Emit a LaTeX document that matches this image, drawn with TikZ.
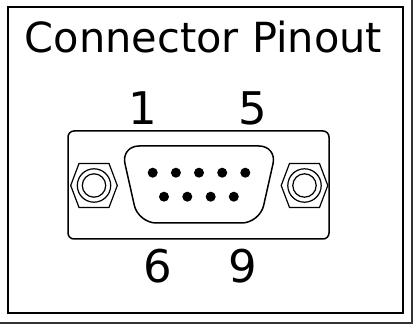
\documentclass[tikz,border=0pt]{standalone}
\usepackage{fontspec}
\setmainfont{DejaVu Sans}
\begin{document}
\begin{tikzpicture}[x=1pt,y=-1pt,
  lbl/.style={inner sep=0pt,anchor=base,font=\fontsize{45}{45}\selectfont},
  ttl/.style={inner sep=0pt,anchor=base,font=\fontsize{41.5}{41.5}\selectfont},
  part/.style={line width=1.5pt,draw=black},
  pin/.style={fill=black}]
\useasboundingbox (0,0) rectangle (413,326);
\fill[white] (0,0) rectangle (413,326);
% frames
\draw[line width=2pt] (8,7.5) rectangle (402.5,313);
\draw[line width=2pt,draw=black!80] (412,0) -- (412,323) -- (0,323);
% title and labels
\node[ttl] (title) at (203.5,52.5) {Connector Pinout};
\node[lbl] (p1) at (143,125) {1};
\node[lbl] (p5) at (253,125) {5};
\node[lbl] (p6) at (158,283) {6};
\node[lbl] (p9) at (243,283) {9};
% connector body
\draw[part,rounded corners=6pt] (68,131) rectangle (329,239);
% nuts
\foreach \cx/\nm in {94/L,304.5/R}{
  \draw[line width=1.2pt] (\cx-23.3,185.5) -- (\cx-15,163.5) -- (\cx+15,163.5) -- (\cx+23.3,185.5) -- (\cx+15,207.5) -- (\cx-15,207.5) -- cycle;
  \draw[line width=1.2pt] (\cx,185.5) circle (16.7);
  \draw[line width=1.2pt] (\cx,185.5) circle (11.7);
}
% D shell
\draw[part,rounded corners=18pt] (199,146) -- (277,146) -- (259.7,223) -- (138.3,223) -- (121,146) -- cycle;
% pins
\foreach \x in {152.7,175.9,199,222.2,245.3}{\fill[pin] (\x,172.7) circle (5);}
\foreach \x in {164,187.3,210.7,233.8}{\fill[pin] (\x,196.7) circle (5);}
\end{tikzpicture}
\end{document}
